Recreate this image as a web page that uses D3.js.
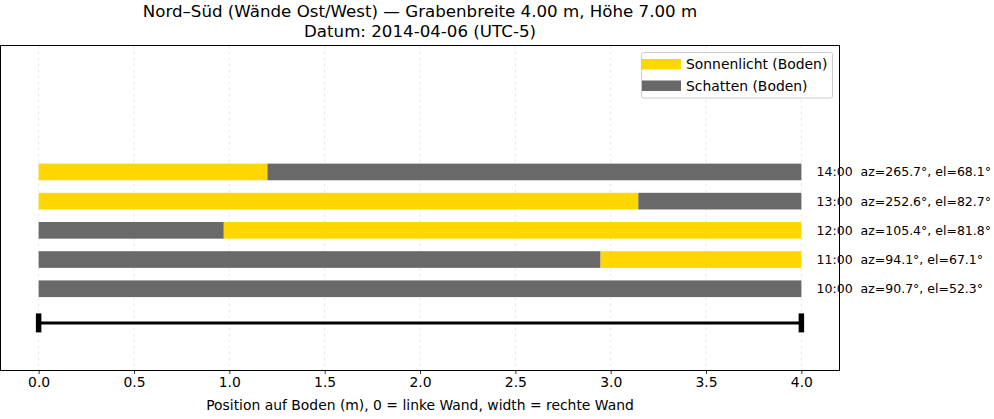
<!DOCTYPE html>
<html><head><meta charset="utf-8">
<script src="https://cdn.jsdelivr.net/npm/d3@7"></script>
<style>body{margin:0;background:#fff}svg{display:block}text{font-family:"DejaVu Sans",sans-serif}</style>
</head><body><svg id="c" width="994" height="419"></svg>
<script>
const titleLines = ["Nord–Süd (Wände Ost/West) — Grabenbreite 4.00 m, Höhe 7.00 m", "Datum: 2014-04-06 (UTC-5)"];
const hours = ["10:00", "11:00", "12:00", "13:00", "14:00"];
const azimuth = [90.7, 94.1, 105.4, 252.6, 265.7];
const elevation = [52.3, 67.1, 81.8, 82.7, 68.1];
// ground segments per hour: [start, end, type]
const segStart = [[0], [0, 2.947], [0, 0.971], [0, 3.145], [0, 1.20]];
const segEnd = [[4], [2.947, 4], [0.971, 4], [3.145, 4], [1.20, 4]];
const segType = [["shadow"], ["shadow", "sun"], ["shadow", "sun"], ["sun", "shadow"], ["sun", "shadow"]];
const width = 4.0;
const xTicks = [0, 0.5, 1, 1.5, 2, 2.5, 3, 3.5, 4];
const legendLabels = ["Sonnenlicht (Boden)", "Schatten (Boden)"];
const colors = {sun: "#FFD700", shadow: "#696969"};
const xLabel = "Position auf Boden (m), 0 = linke Wand, width = rechte Wand";

const svg = d3.select("#c");
const L = 0.5, R = 839.5, T = 45.5, B = 370.5;
const x = d3.scaleLinear().domain([-0.2, 4.2]).range([L, R]);
const y = d3.scaleLinear().domain([-2.8, 8.33]).range([B, T]);
const barH = 0.57;

// grid
svg.append("g").selectAll("line").data(xTicks).join("line")
  .attr("x1", d => x(d)).attr("x2", d => x(d)).attr("y1", T).attr("y2", B)
  .attr("stroke", "#e3e3e3").attr("stroke-width", 0.8).attr("stroke-dasharray", "3,3");

// bars
const segs = [];
hours.forEach((h, i) => segStart[i].forEach((s, j) => segs.push({i, s, e: segEnd[i][j], t: segType[i][j]})));
svg.append("g").selectAll("rect").data(segs).join("rect")
  .attr("x", d => x(d.s)).attr("width", d => x(d.e) - x(d.s))
  .attr("y", d => y(d.i + barH / 2)).attr("height", d => y(d.i - barH / 2) - y(d.i + barH / 2))
  .attr("fill", d => colors[d.t]);

// labels
svg.append("g").selectAll("text").data(hours).join("text")
  .attr("x", x(4.08)).attr("y", (d, i) => y(i)).attr("dy", "0.35em")
  .attr("font-size", 12.5).attr("fill", "#000").attr("xml:space", "preserve")
  .text((d, i) => `${d}  az=${azimuth[i].toFixed(1)}°, el=${elevation[i].toFixed(1)}°`);

// scale bar
const sy = y(-1.17);
svg.append("line").attr("x1", x(0)).attr("x2", x(width)).attr("y1", sy).attr("y2", sy)
  .attr("stroke", "#000").attr("stroke-width", 3);
svg.append("g").selectAll("line").data([0, width]).join("line")
  .attr("x1", d => x(d)).attr("x2", d => x(d)).attr("y1", sy - 9.5).attr("y2", sy + 9.5)
  .attr("stroke", "#000").attr("stroke-width", 5.5);

// frame
svg.append("rect").attr("x", L).attr("y", T).attr("width", R - L).attr("height", B - T)
  .attr("fill", "none").attr("stroke", "#000").attr("stroke-width", 1);

// x axis
const ax = svg.append("g").attr("transform", `translate(0,${B})`)
  .call(d3.axisBottom(x).tickValues(xTicks).tickFormat(d3.format(".1f")).tickSize(3.5).tickPadding(3.5));
ax.select(".domain").remove();
ax.selectAll("text").attr("font-size", 13.9).attr("font-family", "DejaVu Sans").attr("fill", "#000");
ax.selectAll("line").attr("stroke", "#000").attr("stroke-width", 0.8);

svg.append("text").attr("x", (L + R) / 2).attr("y", 410).attr("text-anchor", "middle")
  .attr("font-size", 13.9).text(xLabel);

// title
svg.append("g").selectAll("text").data(titleLines).join("text")
  .attr("x", (L + R) / 2).attr("y", (d, i) => 17 + i * 20).attr("text-anchor", "middle")
  .attr("font-size", 16.67).text(d => d);

// legend
const lg = svg.append("g");
lg.append("rect").attr("x", 641.5).attr("y", 52.5).attr("width", 191).attr("height", 45.5).attr("rx", 2)
  .attr("fill", "#fff").attr("fill-opacity", 0.8).attr("stroke", "#cccccc");
["sun", "shadow"].forEach((k, i) => {
  lg.append("rect").attr("x", 642).attr("y", 59 + i * 21.5).attr("width", 39).attr("height", 10.5).attr("fill", colors[k]);
  lg.append("text").attr("x", 686).attr("y", 64.5 + i * 21.5).attr("dy", "0.35em").attr("font-size", 13.9).text(legendLabels[i]);
});
</script></body></html>
